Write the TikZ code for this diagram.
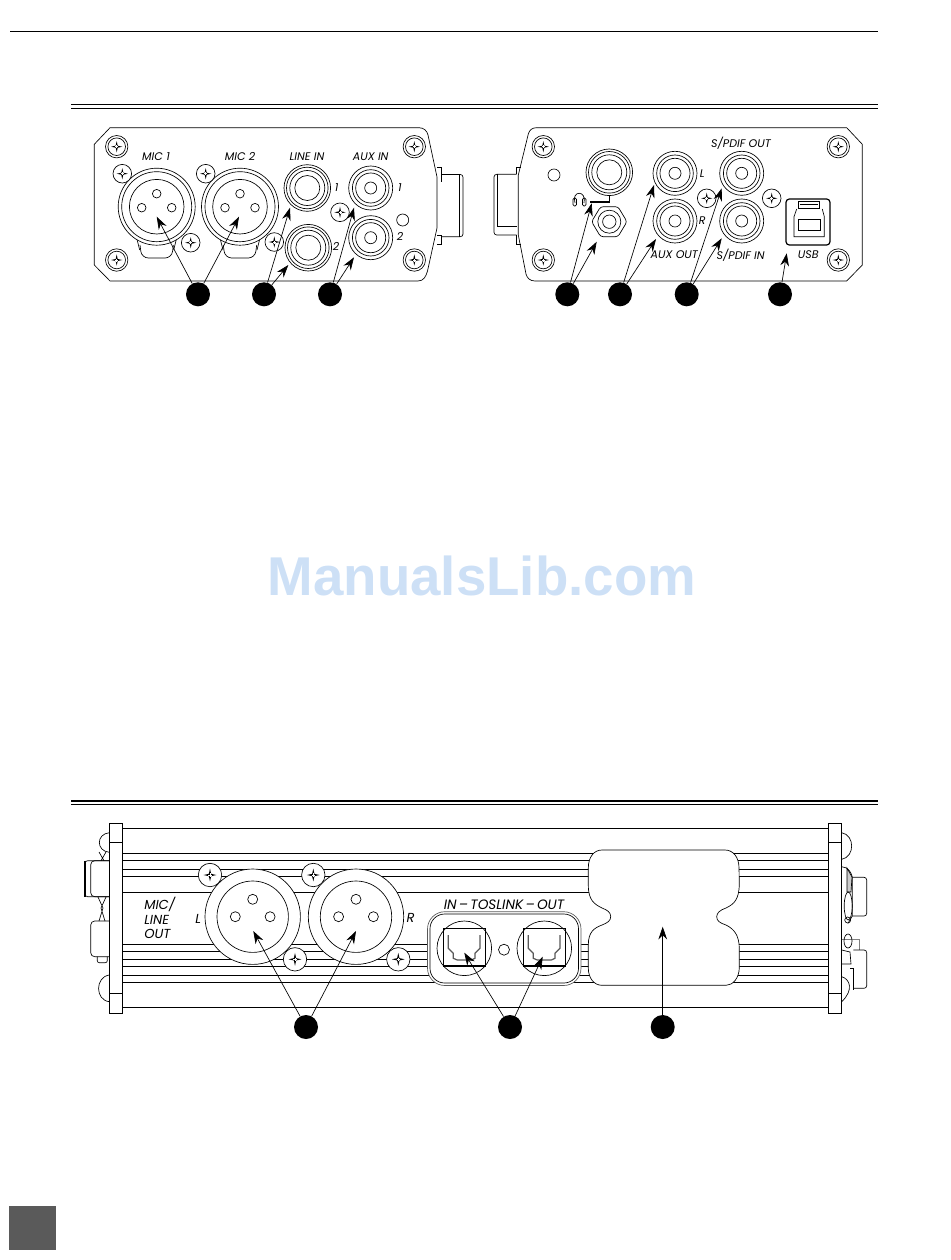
\documentclass[tikz,border=0pt]{standalone}
\usepackage{fontspec}
\setmainfont{Poppins}
\newfontfamily\markfont{Liberation Sans}
\usepackage{xcolor}
\usetikzlibrary{arrows.meta}
\definecolor{filigrane}{HTML}{CDE0F6}
\definecolor{pavegris}{HTML}{5A5A5A}
\tikzset{
  wire/.style={line width=.5pt},
  fleche/.style={->,>={Stealth[length=9.5pt,width=6.5pt]},line width=.5pt},
  pastille/.style={circle,fill=black,minimum size=18pt,inner sep=0pt},
  lab/.style={inner sep=0pt,font=\itshape\fontsize{8.3}{10}\selectfont},
  biglab/.style={inner sep=0pt,font=\itshape\fontsize{9.8}{11}\selectfont},
  toslab/.style={inner sep=0pt,font=\itshape\fontsize{10.2}{11}\selectfont},
  pics/etoile/.style={code={
    \fill (0,-5.6) -- (1,-1) -- (5.6,0) -- (1,1) -- (0,5.6) -- (-1,1) -- (-5.6,0) -- (-1,-1) -- cycle;
    \draw[white,line width=.35pt] (-1.5,0) -- (1.5,0) (0,-1.5) -- (0,1.5);
  }},
  pics/vis/.style={code={
    \draw[wire,fill=white] (0,0) circle (9.3);
    \pic {etoile};
  }},
  pics/grandevis/.style={code={
    \draw[wire,fill=white] (0,0) circle (11.7);
    \pic[scale=1.15] {etoile};
  }},
  pics/visdouble/.style={code={
    \draw[wire,fill=white] (0,0) circle (11.2);
    \draw[wire] (0,0) circle (8.8);
    \pic {etoile};
  }},
  pics/xlr/.style={code={
    \draw[wire,fill=white] (0,0) circle (38.5);
    \draw[wire] (0,0) circle (35);
    \draw[wire] (0,0) circle (27.3);
    \foreach \a/\b in {0/-13,-15/1,15/1} \draw[wire] (\a,\b) circle (4.3);
  }},
  pics/prise/.style={code={
    \draw[wire,fill=white] (0,0) circle (23.3);
    \draw[wire] (0,0) circle (20.8);
    \draw[wire] (0,0) circle (17.5);
    \draw[wire] (0,0) circle (12.5);
  }},
  pics/rca/.style={code={
    \draw[wire,fill=white] (0,0) circle (22);
    \draw[wire] (0,0) circle (18.3);
    \draw[wire] (0,0) circle (15);
    \draw[wire] (0,0) circle (6);
  }},
  pics/xlrgros/.style={code={
    \draw[wire,fill=white] (0,0) circle (47.7);
    \draw[wire] (0,0) circle (35.7);
    \foreach \a/\b in {0/-17.4,-17.4/0,17.4/0} \draw[wire] (\a,\b) circle (5);
  }},
  pics/optique/.style={code={
    \draw[wire,fill=white] (0,0) circle (27.3);
    \draw[line width=1.2pt] (-21,-20) rectangle (21,17.4);
    \draw[line width=.9pt,gray!70!black] (-16,-13.3) -- (-16,0) -- (-11,5) -- (-11,10) -- (-7,11.7) -- (7,11.7) -- (10.7,10) -- (10.7,5) -- (15.7,0) -- (15.7,-13.3);
  }}
}
\begin{document}
\begin{tikzpicture}[x=.75pt,y=-.75pt]
\useasboundingbox (0,0) rectangle (950,1260);

% Les filets de la page
\draw[line width=.5pt] (10,31) -- (878,31);
\draw[line width=1.1pt] (71,104.5) -- (878,104.5);
\draw[line width=.5pt] (71,108) -- (878,108);
\draw[line width=1.1pt] (71,801) -- (878,801);
\draw[line width=.5pt] (71,804.5) -- (878,804.5);
\fill[pavegris] (9,1206) rectangle (56,1250);
\node[text=filigrane,inner sep=0pt,font=\markfont\bfseries\fontsize{41}{41}\selectfont] (marque) at (482,576) {ManualsLib.com};

% Face avant : le boitier
\draw[wire] (110,127.7) -- (94.3,144.3) -- (94.3,265) -- (110,281) -- (418,281) .. controls (424,281) and (426,276) .. (427.5,271) -- (437,228) -- (437,177) -- (428,135) .. controls (427,131) and (424,127.7) .. (419,127.7) -- cycle;
% Le connecteur sur le cote
\draw[wire] (437,167) -- (441,167) -- (441,182);
\draw[wire] (437,235) -- (441,235) -- (441,244) -- (437,244);
\draw[wire,rounded corners=2pt] (441,174.5) -- (463,174.5) -- (463,236.7) -- (441,236.7);
\draw[wire] (459.5,175) -- (459.5,236.7);

% Les vis du boitier
\foreach \x/\y in {116.7/146.7,116.7/260,414.3/146.7,414.3/260} \pic at (\x,\y) {visdouble};

% Les languettes sous les XLR
\foreach \x in {156.7,240} {
  \draw[wire,rounded corners=5pt] (\x-16.7,245) -- (\x-15,258) -- (\x+15,258) -- (\x+16.7,245);
  \draw[wire] (\x-20,238) -- (\x-17,250) (\x+20,238) -- (\x+17,250);
}
\pic at (156.7,206.7) {xlr};
\pic at (240,206.7) {xlr};
\pic at (307.3,188) {prise};
\pic at (308.3,247.7) {prise};
\pic at (370.7,188) {rca};
\pic at (370.7,237.7) {rca};
\draw[wire] (402.7,220) circle (6);
\foreach \x/\y in {122.3/173.7,205.7/173.7,190.7/242.7,274.3/242,340/212.3} \pic at (\x,\y) {vis};

\node[lab] (mic1) at (156,157) {MIC 1};
\node[lab] (mic2) at (240,157) {MIC 2};
\node[lab] (linein) at (307,157) {LINE IN};
\node[lab] (auxin) at (370.7,157) {AUX IN};
\node[lab] (lineA) at (336.7,187.3) {1};
\node[lab] (lineB) at (336,246.7) {2};
\node[lab] (auxA) at (400,187.7) {1};
\node[lab] (auxB) at (400,236.7) {2};

% Face arriere : le boitier
\draw[wire] (536.7,127.7) .. controls (532,127.7) and (529.5,130) .. (528.3,134) -- (518.3,175) -- (518.3,235) -- (526,274) .. controls (527,278) and (530,281) .. (535,281) -- (846.7,281) -- (862.3,265) -- (862.3,144.3) -- (846.7,127.7) -- cycle;
\draw[wire] (520.7,167) -- (516.7,167) -- (516.7,174.3);
\draw[wire] (520.7,244) -- (516.7,244) -- (516.7,235);
\draw[wire,rounded corners=2pt] (516.7,174.3) -- (494,174.3) -- (494,235) -- (516.7,235);
\draw[wire] (497,174.3) -- (497,226.7) -- (516.7,226.7);
\foreach \x/\y in {543.3/146.7,543.3/260,838.3/146.7,838.3/260} \pic at (\x,\y) {visdouble};
\draw[wire] (554,175) circle (6);

% La prise casque
\pic at (609.3,172.3) {prise};
\draw[wire,fill=white,rounded corners=2pt] (627,221.7) -- (618,206.7) -- (600.6,206.7) -- (591.6,221.7) -- (600.6,236.7) -- (618,236.7) -- cycle;
\draw[wire] (609.3,221.7) circle (11.5);
\draw[wire] (609.3,221.7) circle (6.7);
\draw[line width=1.2pt] (590,201.7) -- (609.5,201.7) -- (609.5,196);
\draw[wire] (575,203) .. controls (571,190) and (587,190) .. (584,203);
\draw[wire,rounded corners=1pt] (573,198) rectangle (576.5,206);
\draw[wire,rounded corners=1pt] (582.5,198) rectangle (586,206);

\pic at (675,173.3) {rca};
\pic at (675,221) {rca};
\pic at (741.7,173.3) {rca};
\pic at (741.7,221) {rca};
\foreach \x/\y in {706.7/198.3,771.7/198.3} \pic at (\x,\y) {vis};

% La prise USB
\draw[line width=.9pt,rounded corners=2.5pt] (786,199) rectangle (830,245);
\draw[wire] (798.3,201.7) rectangle (819.3,208.3);
\draw[wire] (800,204) -- (817.5,204);
\draw[wire] (796.7,209) -- (794,216.7) -- (794,236.7) -- (824.3,236.7) -- (824.3,216.7) -- (822.3,209);
\draw[wire] (798,219.3) rectangle (820,230.7);

\node[lab] (spout) at (741,143.3) {S/PDIF OUT};
\node[lab] (auxout) at (674.3,255) {AUX OUT};
\node[lab] (spin) at (740.7,255) {S/PDIF IN};
\node[lab] (usb) at (808.3,255) {USB};
\node[lab] (auxL) at (702.3,173.3) {L};
\node[lab] (auxR) at (702.3,221) {R};

% Vue de dessus : les ailettes
\draw[wire] (122.7,828.3) -- (828.3,828.3);
\draw[wire] (122.7,1007.3) -- (828.3,1007.3);
\foreach \y in {853.3,860.3,869.3,876.3,892.3,944.3,951.3,959.3,966.3,975.3,982.3} \draw[wire] (122.7,\y) -- (828.3,\y);

% Les deux flasques
\foreach \x in {109.3,828.3} {
  \draw[wire,fill=white] (\x,823.3) rectangle (\x+13.4,1013.3);
  \draw[wire] (\x,842.7) -- (\x+13.4,842.7) (\x,993.3) -- (\x+13.4,993.3);
}

% Les pieces a gauche
\draw[wire] (109.3,832.7) .. controls (96,834) and (96,851) .. (109.3,852.3);
\draw[wire] (109.3,975) .. controls (95,977) and (95,1000) .. (109.3,1001.7);
\draw[line width=1pt] (85,860.7) -- (85,896.7);
\draw[wire,rounded corners=2pt] (109.3,860.7) -- (85,860.7) -- (85,896.7) -- (109.3,896.7);
\draw[wire,rounded corners=3pt] (109.3,860.7) -- (90.7,860.7) -- (90.7,896.7) -- (109.3,896.7);
\draw[wire] (99,852) -- (104,860.7) (106,852) -- (101,860.7);
\draw[wire] (98,897) -- (103,908) -- (99,921) (106,897) -- (101,908) -- (105,921);
\draw[wire,rounded corners=3pt] (109.3,921) -- (90.7,921) -- (90.7,956.7) -- (109.3,956.7);
\draw[wire,rounded corners=1.5pt] (97.3,956.7) -- (97.3,962.7) -- (107.3,962.7) -- (107.3,956.7);

% Les pieces a droite
\draw[wire] (841.7,832.7) .. controls (855,835) and (855,857) .. (841.7,859.3);
\draw[wire] (841.7,866.7) .. controls (848,867) and (851,872) .. (852.3,877) -- (852.3,916) -- (848,923.3);
\draw[wire,fill=gray!40] (847,868) -- (852,877) -- (851,892) -- (847,892) -- cycle;
\draw[wire] (848.2,906) ellipse (4 and 14);
\draw[wire] (847.7,920) circle (3);
\draw[wire,rounded corners=2pt] (852.3,877.3) -- (866.7,877.3) -- (866.7,916) -- (852.3,916);
\draw[gray,line width=.4pt] (841.7,939) -- (859.3,939) -- (859.3,950);
\draw[wire,rounded corners=2pt] (853.3,950) -- (866.7,950) -- (866.7,988.3) -- (853.3,988.3);
\draw[wire] (848,941) ellipse (4 and 7);
\draw[wire] (841.7,950) -- (850,952) -- (851,964) -- (841.7,964);
\draw[wire] (850,968) -- (853.3,968) -- (853.3,990);
\draw[wire] (841.7,976.7) .. controls (850,979) and (854,990) .. (841.7,1001.7);

% Les deux XLR et leurs vis
\pic at (252.7,916.7) {xlrgros};
\pic at (356,916.7) {xlrgros};
\foreach \x/\y in {210/875,313.3/875,295/959.3,398.3/959.3} \pic at (\x,\y) {grandevis};

\node[biglab,align=left,anchor=north west] (micline) at (144,897) {MIC/\\LINE\\OUT};
\node[biglab] (xlrL) at (198.3,919) {L};
\node[biglab] (xlrR) at (410.7,918.3) {R};

% Le cadre des prises optiques
\draw[gray!70!black,line width=.5pt,fill=white,rounded corners=13pt] (427.5,911.7) rectangle (581,985.5);
\draw[wire,rounded corners=11pt] (430,914) rectangle (578.5,983);
\pic at (464.3,948.3) {optique};
\pic at (544.3,948.3) {optique};
\draw[wire] (504,949.7) circle (5.5);
\node[toslab] (tos) at (504,904.3) {IN\,–\,TOSLINK\,–\,OUT};

% La plaque sans prise
\draw[wire,fill=white] (602,850) -- (725,850) .. controls (733,850) and (739,857) .. (739,868) -- (739.3,884) .. controls (739,900) and (734,904) .. (726,908) .. controls (720,910) and (716.7,913) .. (716.7,916.7) .. controls (716.7,921) and (720,923) .. (726,925) .. controls (734,929) and (739,935) .. (739.3,948) -- (739.3,968) .. controls (739,978) and (733,985.3) .. (726,985.3) -- (602,985.3) .. controls (594,985.3) and (588.3,978) .. (588.3,968) -- (588.3,945) .. controls (588.3,932) and (594,928) .. (602,925) .. controls (607,923) and (610.7,921) .. (610.7,916.7) .. controls (610.7,912) and (607,910) .. (602,908) .. controls (594,904) and (588.3,900) .. (588.3,885) -- (588.3,868) .. controls (588.3,857) and (594,850) .. (602,850) -- cycle;

% Les pastilles
\node[pastille] (A) at (198,294.3) {};
\node[pastille] (B) at (264,294.3) {};
\node[pastille] (C) at (330,294.3) {};
\node[pastille] (D) at (567.3,294.3) {};
\node[pastille] (E) at (620,294.3) {};
\node[pastille] (F) at (686.7,294.3) {};
\node[pastille] (G) at (780,294.3) {};
\node[pastille] (H) at (306,1027) {};
\node[pastille] (I) at (510,1027) {};
\node[pastille] (J) at (662.7,1027) {};

% Les bouts des fleches
\coordinate (a1) at (156.7,216.7);
\coordinate (a2) at (239,216.7);
\coordinate (b1) at (290,207.7);
\coordinate (b2) at (288.3,265);
\coordinate (c1) at (354,207.7);
\coordinate (c2) at (354,257.3);
\coordinate (d1) at (591.7,203.3);
\coordinate (d2) at (596.7,241.7);
\coordinate (e1) at (654,185);
\coordinate (e2) at (656,239);
\coordinate (f1) at (721.7,188.3);
\coordinate (f2) at (721.7,238.3);
\coordinate (g1) at (786.7,253.3);
\coordinate (h1) at (253.3,931);
\coordinate (h2) at (356,931);
\coordinate (i1) at (464.3,952.7);
\coordinate (i2) at (542.7,956.7);
\coordinate (j1) at (662.7,926.7);

% Les fleches
\foreach \p/\q in {A/a1,A/a2,B/b1,B/b2,C/c1,C/c2,D/d1,D/d2,E/e1,E/e2,F/f1,F/f2,G/g1,H/h1,H/h2,I/i1,I/i2,J/j1}
  \draw[fleche] (\p) -- (\q);
\end{tikzpicture}
\end{document}
